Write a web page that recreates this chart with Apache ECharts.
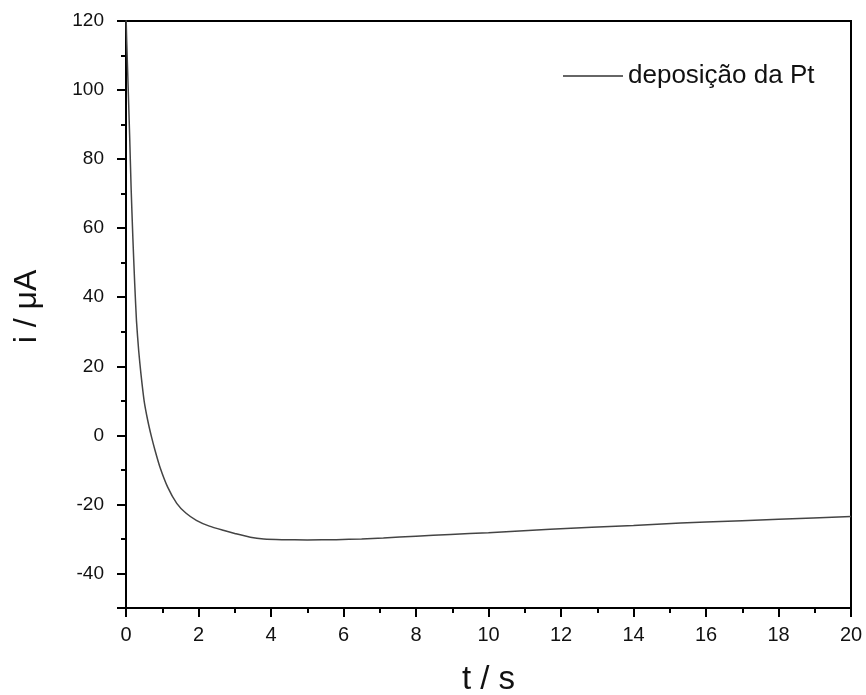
<!DOCTYPE html>
<html>
<head>
<meta charset="utf-8">
<script src="https://cdn.jsdelivr.net/npm/echarts@6/dist/echarts.min.js"></script>
<style>html,body{margin:0;padding:0;background:#fff;}#c{width:866px;height:695px;}</style>
</head>
<body>
<div id="c"></div>
<script>
var timeS = [0, 0.02, 0.05, 0.10, 0.14, 0.19, 0.24, 0.29, 0.35, 0.41, 0.5, 0.6, 0.7, 0.8, 0.94, 1.15, 1.4, 1.65, 1.94, 2.3, 2.68, 3.0, 3.43, 3.8, 4.3, 5.0, 5.8, 6.5, 7.1, 8.0, 8.95, 10.0, 11.7, 14.0, 15.3, 16.0, 18.0, 20.0];
var currentUA = [122, 114, 104, 87, 72, 57, 44, 33, 24.5, 18, 10, 4.3, -0.3, -4.3, -9.3, -15, -19.7, -22.5, -24.6, -26.3, -27.5, -28.4, -29.5, -30.0, -30.2, -30.3, -30.2, -30.0, -29.7, -29.2, -28.7, -28.2, -27.2, -26.1, -25.4, -25.1, -24.3, -23.5];
var seriesName = 'deposição da Pt';
var xTitle = 't / s';
var yTitle = 'i / \u03bcA';

var pts = timeS.map(function (t, i) { return [t, currentUA[i]]; });
var chart = echarts.init(document.getElementById('c'), null, {renderer: 'canvas'});
var font = 'Liberation Sans, Arial, sans-serif';
chart.setOption({
  animation: false,
  backgroundColor: '#fff',
  grid: {left: 126, right: 15, top: 21, bottom: 87, show: true, borderColor: '#000', borderWidth: 2,
    backgroundColor: 'transparent', containLabel: false, outerBoundsMode: 'none'},
  legend: {
    left: 558, top: 58, itemWidth: 60, itemHeight: 14, itemGap: 10,
    textStyle: {fontFamily: font, fontSize: 26, color: '#111'},
    data: [{name: seriesName, icon: 'path://M0,0 L100,0 L100,2.5 L0,2.5 Z'}],
    itemStyle: {color: '#333'}
  },
  xAxis: {
    type: 'value', min: 0, max: 20, interval: 2,
    name: xTitle, nameLocation: 'middle', nameGap: 55,
    nameTextStyle: {fontFamily: font, fontSize: 33, color: '#111'},
    axisLine: {show: true, onZero: false, lineStyle: {color: '#000', width: 2}},
    axisTick: {show: true, inside: false, length: 9, lineStyle: {color: '#000', width: 2}},
    minorTick: {show: true, splitNumber: 2, length: 5, lineStyle: {color: '#000', width: 2}},
    axisLabel: {fontFamily: font, fontSize: 20, color: '#111', margin: 17},
    splitLine: {show: false}
  },
  yAxis: {
    type: 'value', min: -50, max: 120, splitNumber: 8,
    name: yTitle, nameLocation: 'middle', nameGap: 83,
    nameTextStyle: {fontFamily: font, fontSize: 32, color: '#111', padding: [0, 0, 0, 16]},
    axisLine: {show: true, onZero: false, lineStyle: {color: '#000', width: 2}},
    axisTick: {show: true, inside: false, length: 9, lineStyle: {color: '#000', width: 2}},
    minorTick: {show: true, splitNumber: 2, length: 5, lineStyle: {color: '#000', width: 2}},
    axisLabel: {fontFamily: font, fontSize: 19, color: '#111', margin: 22,
      formatter: function (v) { return (v % 20 === 0) ? String(v) : ''; }},
    splitLine: {show: false}
  },
  series: [{
    name: seriesName, type: 'line', data: pts, symbol: 'none', smooth: 0.2,
    clip: true,
    lineStyle: {color: '#444', width: 1.5}
  }]
});
</script>
</body>
</html>
